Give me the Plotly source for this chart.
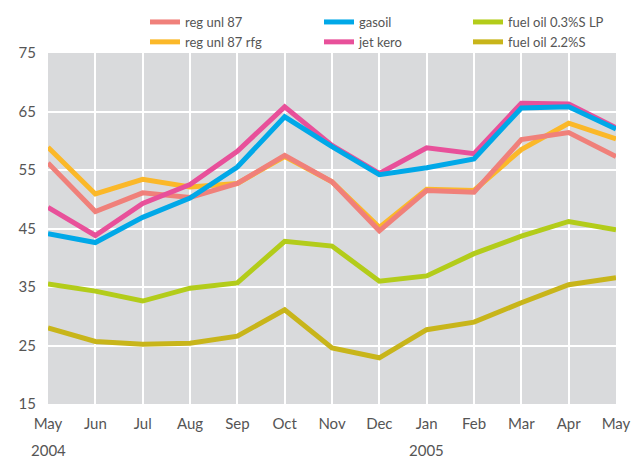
import plotly.graph_objects as go

months = ["May", "Jun", "Jul", "Aug", "Sep", "Oct", "Nov", "Dec", "Jan", "Feb", "Mar", "Apr", "May"]
years = ["2004", "2005"]
year_pos = [0, 8]

reg_unl_87 = [56.2, 47.9, 51.1, 50.3, 52.7, 57.5, 53.0, 44.6, 51.5, 51.2, 60.2, 61.4, 57.3]
reg_unl_87_rfg = [58.9, 50.9, 53.4, 52.1, 52.7, 57.3, 53.0, 45.2, 51.7, 51.5, 58.5, 63.0, 60.3]
gasoil = [44.1, 42.6, 46.9, 50.2, 55.5, 64.1, 59.0, 54.2, 55.4, 56.9, 65.6, 65.8, 62.0]
jet_kero = [48.6, 43.8, 49.3, 52.5, 58.2, 65.8, 59.2, 54.4, 58.8, 57.8, 66.4, 66.3, 62.2]
fuel_oil_03 = [35.5, 34.3, 32.6, 34.8, 35.7, 42.8, 42.0, 36.0, 36.9, 40.7, 43.7, 46.2, 44.8]
fuel_oil_22 = [28.0, 25.7, 25.2, 25.4, 26.6, 31.1, 24.6, 22.9, 27.7, 29.0, 32.3, 35.4, 36.6]

y_ticks = [15, 25, 35, 45, 55, 65, 75]

x = list(range(len(months)))

series = [
    # name, data, color, legend, rank (draw order is list order)
    ("reg unl 87 rfg", reg_unl_87_rfg, "#fbb829", "legend", 2),
    ("reg unl 87", reg_unl_87, "#f0807a", "legend", 1),
    ("jet kero", jet_kero, "#e8509a", "legend2", 2),
    ("gasoil", gasoil, "#00a8e8", "legend2", 1),
    ("fuel oil 0.3%S LP", fuel_oil_03, "#b3cc1a", "legend3", 1),
    ("fuel oil 2.2%S", fuel_oil_22, "#c8b51a", "legend3", 2),
]

fig = go.Figure()
for name, data, color, leg, rank in series:
    fig.add_trace(go.Scatter(
        x=x, y=data, name=name, mode="lines",
        line=dict(color=color, width=5),
        legend=leg, legendrank=rank,
    ))

font_family = "Lato, 'Open Sans', sans-serif"
text_color = "#555555"

# page is offset by the browser's 8px body margin
W, H = 635, 451
plot_h = 351

legend_common = dict(
    orientation="v", xref="container", yref="paper",
    xanchor="left", yanchor="top", y=1 + 46 / plot_h, bgcolor="rgba(0,0,0,0)",
    font=dict(family=font_family, size=13, color=text_color),
    itemwidth=30, tracegroupgap=0,
)

fig.update_layout(
    width=W, height=H,
    margin=dict(l=40, r=27, t=45, b=55, autoexpand=False),
    paper_bgcolor="white",
    plot_bgcolor="#d9dadc",
    font=dict(family=font_family, size=15, color=text_color),
    showlegend=True,
    legend=dict(legend_common, x=137 / W),
    legend2=dict(legend_common, x=311 / W),
    legend3=dict(legend_common, x=460 / W),
    xaxis=dict(
        range=[0, 12], tickvals=x, ticktext=months,
        showgrid=True, gridcolor="white", gridwidth=2,
        zeroline=False, showline=False, ticks="",
        ticklabelstandoff=9,
        tickfont=dict(family=font_family, size=15, color=text_color),
    ),
    yaxis=dict(
        range=[15, 75], tickvals=y_ticks,
        showgrid=True, gridcolor="white", gridwidth=2,
        zeroline=False, showline=False, ticks="",
        ticklabelstandoff=11,
        tickfont=dict(family=font_family, size=15, color=text_color),
    ),
)

for yr, pos in zip(years, year_pos):
    fig.add_annotation(
        x=pos, y=0, xref="x", yref="paper", yshift=-46,
        text=yr, showarrow=False, xanchor="center", yanchor="middle",
        font=dict(family=font_family, size=15, color=text_color),
    )

fig.write_html("out.html")
